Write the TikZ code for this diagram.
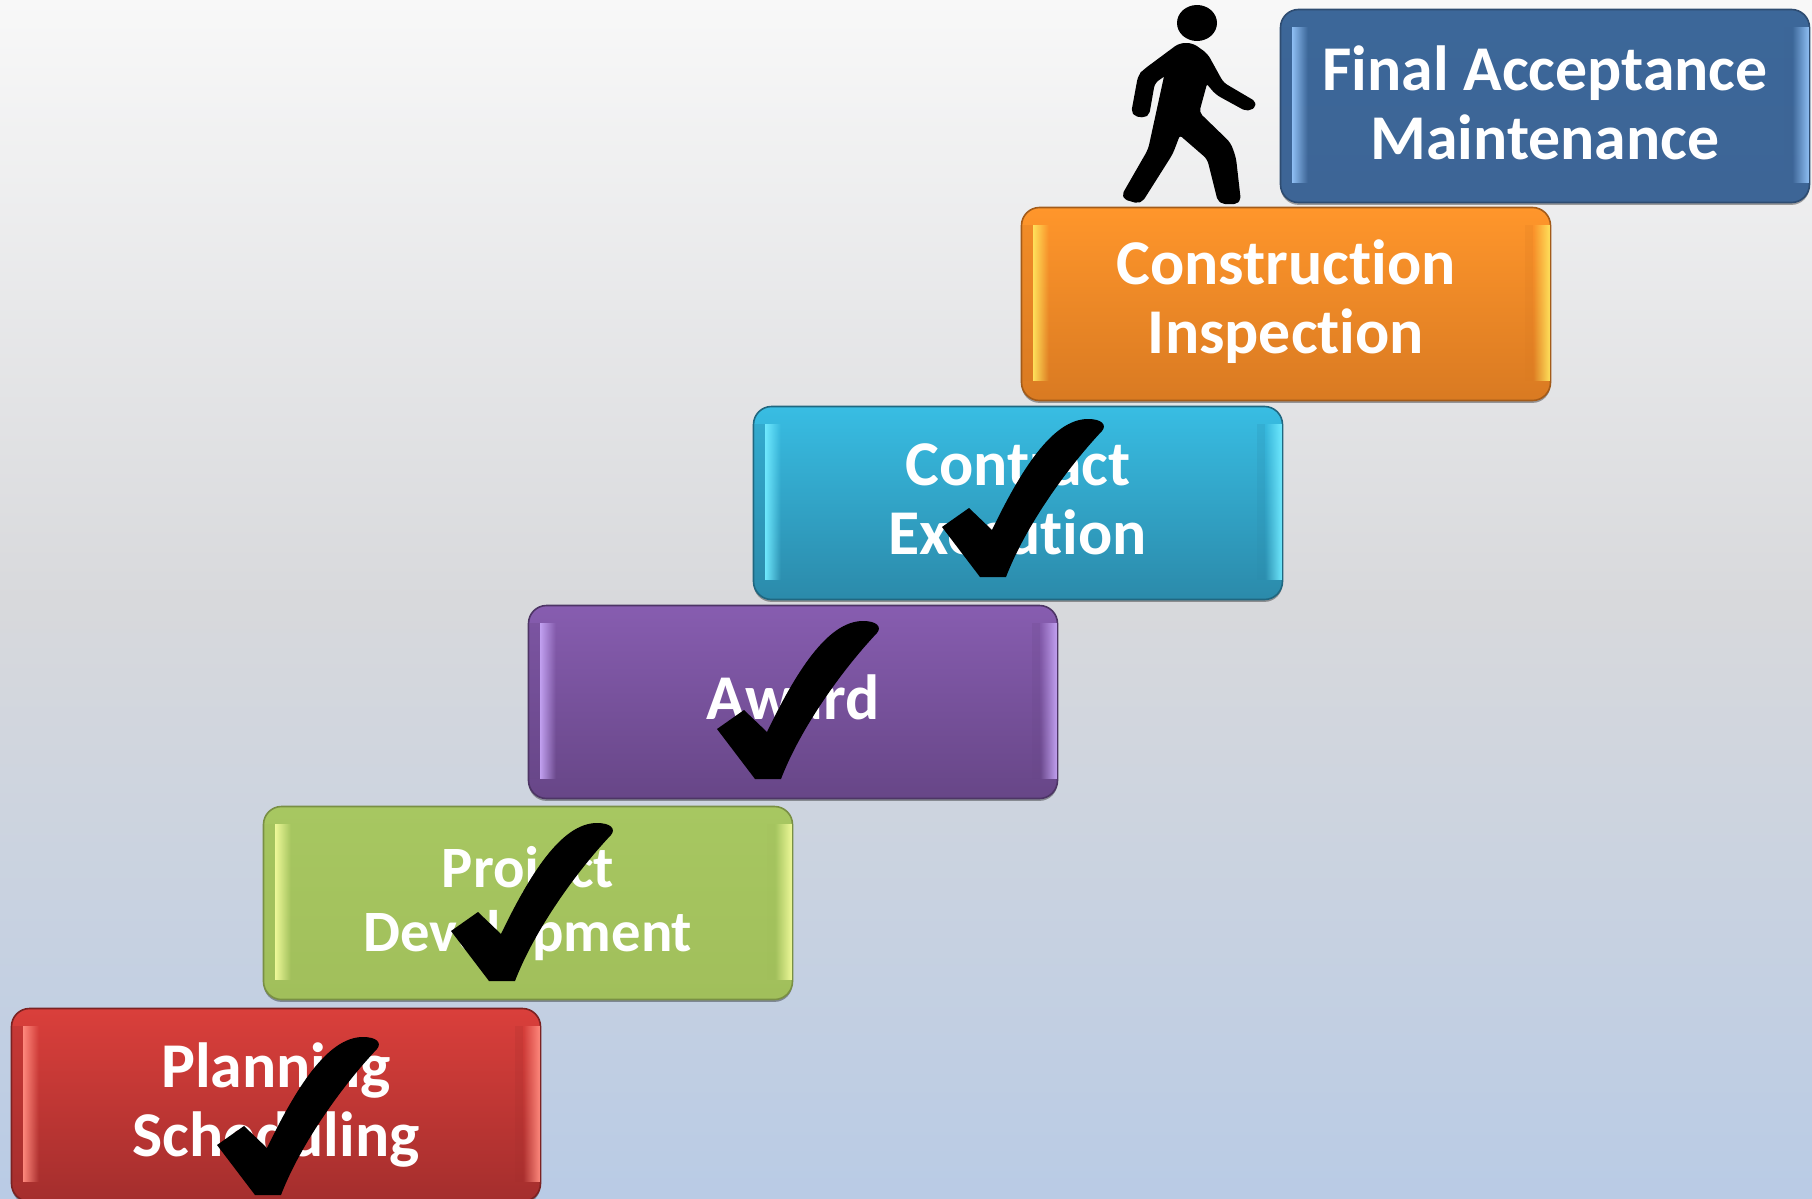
\documentclass[tikz,border=0pt]{standalone}
\usepackage{fontspec}
\usetikzlibrary{fadings,shadows}
\setmainfont[Ligatures=CommonOff]{Carlito}
\definecolor{redtop}{HTML}{DA3F3B}
\definecolor{redlow}{HTML}{A42E2D}
\definecolor{redbar}{HTML}{FF8A7E}
\definecolor{greentop}{HTML}{A7C761}
\definecolor{greenlow}{HTML}{A1BF5B}
\definecolor{greenbar}{HTML}{F0FA9A}
\definecolor{purpletop}{HTML}{875DB0}
\definecolor{purplelow}{HTML}{674687}
\definecolor{purplebar}{HTML}{C3A2F2}
\definecolor{cyantop}{HTML}{38BDE3}
\definecolor{cyanlow}{HTML}{2B8AAA}
\definecolor{cyanbar}{HTML}{70EAFF}
\definecolor{orangetop}{HTML}{FF962B}
\definecolor{orangelow}{HTML}{D97A22}
\definecolor{orangebar}{HTML}{FFE25C}
\definecolor{bluetop}{HTML}{3C6799}
\definecolor{bluelow}{HTML}{3D6596}
\definecolor{bluebar}{HTML}{90C0F5}
\definecolor{backtop}{HTML}{F8F8F8}
\definecolor{backmid}{HTML}{D8D9DC}
\definecolor{backlow}{HTML}{B9CBE5}
\newcommand\lowdepth[1]{\rule[-#1]{0pt}{#1}}
\tikzset{
  stepbox/.style={shape=rectangle,rounded corners=9pt,line width=.8pt,top color=#1top,bottom color=#1low,
    draw=#1low!75!black,minimum width=264.5pt,minimum height=96.5pt,inner sep=0pt,
    drop shadow={shadow xshift=0pt,shadow yshift=-1.2pt,fill=black,opacity=.35},
    text=white,align=center,font=\fontsize{31.9}{34.5}\selectfont\bfseries},
  checkmark/.pic={\fill[black] (0,0) -- (26,0) .. controls (46,-52) and (88,-110) .. (122,-146)
    .. controls (127,-152) and (122,-158) .. (108,-158) .. controls (72,-158) and (40,-105) .. (12,-47)
    -- (-11,-69) -- (-38,-50) -- cycle;},
}
\begin{document}
\begin{tikzpicture}[x=.5pt,y=-.5pt]
  \useasboundingbox (0,0) rectangle (1812,1199);
  \clip (0,0) rectangle (1812,1199);
  \fill[top color=backtop,bottom color=backlow,middle color=backmid] (0,0) rectangle (1812,1199);
  \node[stepbox=red] (planning) at (276,1105) {Planning\\Scheduling};
  \node[stepbox=green,font=\fontsize{29.3}{32}\selectfont\bfseries] (project) at (528,903) {\rule{0pt}{21pt}Project\\Development};
  \node[stepbox=purple] (award) at (793,702) {Award\lowdepth{4.6pt}};
  \node[stepbox=cyan] (contract) at (1018,503) {Contract\\Execution\lowdepth{3.5pt}};
  \node[stepbox=orange] (construction) at (1286,304) {Construction\\Inspection\lowdepth{7.5pt}};
  \node[stepbox=blue] (final) at (1545,106) {Final Acceptance\\Maintenance\lowdepth{3.5pt}};
  \foreach \n/\c in {planning/red,project/green,award/purple,contract/cyan,construction/orange,final/blue}{
    \fill[\c low,opacity=.3] ([xshift=1pt,yshift=-9pt]\n.north west) rectangle ([xshift=6pt,yshift=10pt]\n.south west);
    \fill[\c bar,path fading=east] ([xshift=6pt,yshift=-9pt]\n.north west) rectangle ([xshift=14pt,yshift=10pt]\n.south west);
    \fill[\c low,opacity=.2] ([xshift=-13pt,yshift=-9pt]\n.north east) rectangle ([xshift=-9pt,yshift=10pt]\n.south east);
    \fill[\c bar,path fading=west] ([xshift=-9pt,yshift=-9pt]\n.north east) rectangle ([xshift=-.5pt,yshift=10pt]\n.south east);
  }
  \pic at (255,1195) {checkmark};
  \pic at (489,981) {checkmark};
  \pic at (755,779) {checkmark};
  \pic at (980,577) {checkmark};
  \fill[black] (1197,23) ellipse [x radius=10pt,y radius=9pt];
  \filldraw[black,line width=2pt,line join=round,rounded corners=2.5pt] (1192,45) -- (1206,55) -- (1222,84) -- (1256,104) -- (1248,110) -- (1217,93) -- (1206,80)
    -- (1197,113) -- (1229,144) -- (1234,158) -- (1239,202) -- (1220,202) -- (1209,158) -- (1179,132) -- (1171,153)
    -- (1140,202) -- (1123,197) -- (1150,150) -- (1167,72) -- (1153,82) -- (1147,116) -- (1133,114) -- (1140,76) -- (1145,71) -- (1180,45) -- cycle;
\end{tikzpicture}
\end{document}
